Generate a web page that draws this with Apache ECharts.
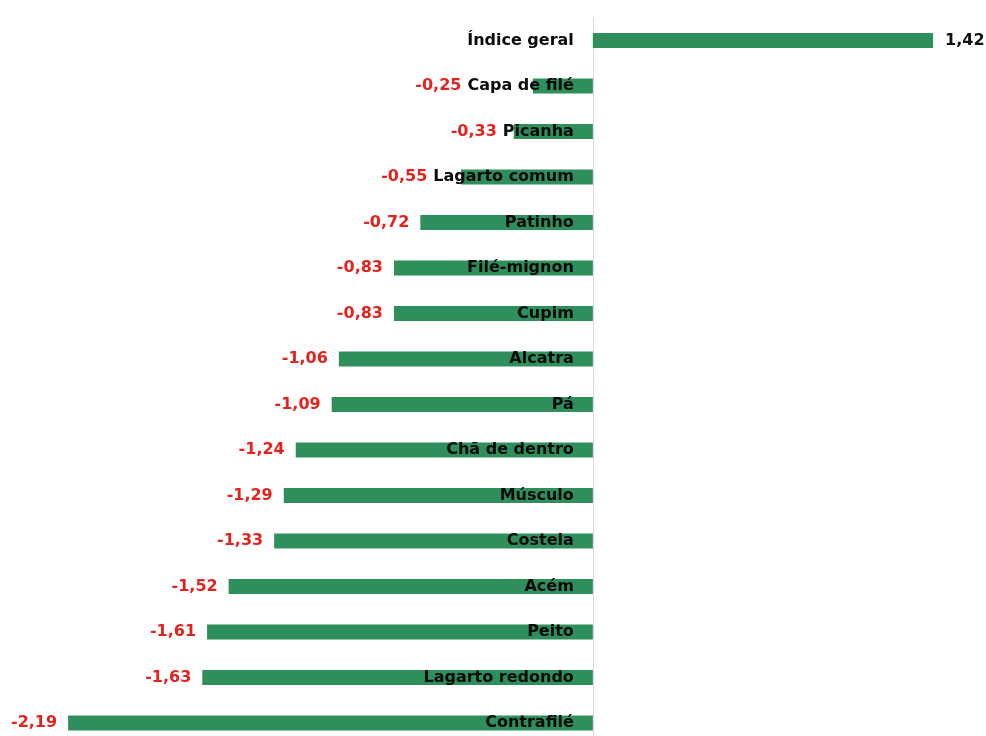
<!DOCTYPE html>
<html>
<head>
<meta charset="utf-8">
<script src="https://cdn.jsdelivr.net/npm/echarts@6/dist/echarts.min.js"></script>
<style>
  html, body { margin: 0; padding: 0; background: #ffffff; }
  #chart { width: 986px; height: 736px; }
</style>
</head>
<body>
<div id="chart"></div>
<script>
// Variação de preço por corte (%)
const categories = [
  'Índice geral', 'Capa de filé', 'Picanha', 'Lagarto comum', 'Patinho',
  'Filé-mignon', 'Cupim', 'Alcatra', 'Pá', 'Chã de dentro', 'Músculo',
  'Costela', 'Acém', 'Peito', 'Lagarto redondo', 'Contrafilé'
];
const values = [
  1.42, -0.25, -0.33, -0.55, -0.72,
  -0.83, -0.83, -1.06, -1.09, -1.24, -1.29,
  -1.33, -1.52, -1.61, -1.63, -2.19
];

const FONT = 'DejaVu Sans';
const FONT_SIZE = 16;
const CAT_MARGIN = 19;      // gap between zero line and category names
const VALUE_DIST = 11;      // gap between bar end and value label
const TEXT_GAP = 6;         // gap between value label and a wider category name

const fmt = v => v.toFixed(2).replace('.', ',');

const chart = echarts.init(document.getElementById('chart'), null, { renderer: 'canvas' });

const option = {
  animation: false,
  backgroundColor: '#ffffff',
  grid: {
    left: 17.8, width: 958.4, top: 17.75, height: 728,
    containLabel: false,
    outerBoundsMode: 'none'
  },
  xAxis: {
    type: 'value',
    min: -2.4,
    max: 1.6,
    show: false
  },
  yAxis: {
    type: 'category',
    data: categories,
    inverse: true,
    axisLine: { onZero: true, lineStyle: { color: '#d9d9d9', width: 1 } },
    axisTick: { show: false },
    axisLabel: { show: false }
  },
  series: [
    {
      type: 'bar',
      data: values,
      barWidth: 15,
      itemStyle: { color: '#2e8f5d' },
      label: {
        show: true,
        position: 'left',
        distance: VALUE_DIST,
        fontFamily: FONT,
        fontWeight: 'bold',
        fontSize: FONT_SIZE,
        color: '#e3241e',
        formatter: p => fmt(p.value)
      }
    },
    {
      // category names, right-aligned just left of the zero line, over the bars
      type: 'scatter',
      z: 5,
      silent: true,
      symbolSize: 0,
      itemStyle: { opacity: 1 },
      data: categories.map(c => [0, c]),
      label: {
        show: true,
        position: 'left',
        distance: CAT_MARGIN,
        fontFamily: FONT,
        fontWeight: 'bold',
        fontSize: FONT_SIZE,
        color: '#0a0a0a',
        opacity: 1,
        formatter: p => p.value[1]
      }
    }
  ]
};

chart.setOption(option);

// Shift value labels left when the category name is wider than its bar.
const ctx = document.createElement('canvas').getContext('2d');
ctx.font = 'bold ' + FONT_SIZE + 'px "' + FONT + '"';
const zeroPx = chart.convertToPixel({ xAxisIndex: 0 }, 0);

const items = values.map((v, i) => {
  if (v >= 0) {
    return {
      value: v,
      label: { position: 'right', distance: 12, color: '#111111' }
    };
  }
  const barEnd = chart.convertToPixel({ xAxisIndex: 0 }, v);
  const textStart = zeroPx - CAT_MARGIN - ctx.measureText(categories[i]).width;
  const wanted = textStart - TEXT_GAP;
  const natural = barEnd - VALUE_DIST;
  const item = { value: v };
  if (wanted < natural) {
    item.label = { offset: [wanted - natural, 0] };
  }
  return item;
});

chart.setOption({ series: [{ data: items }] });
</script>
</body>
</html>
